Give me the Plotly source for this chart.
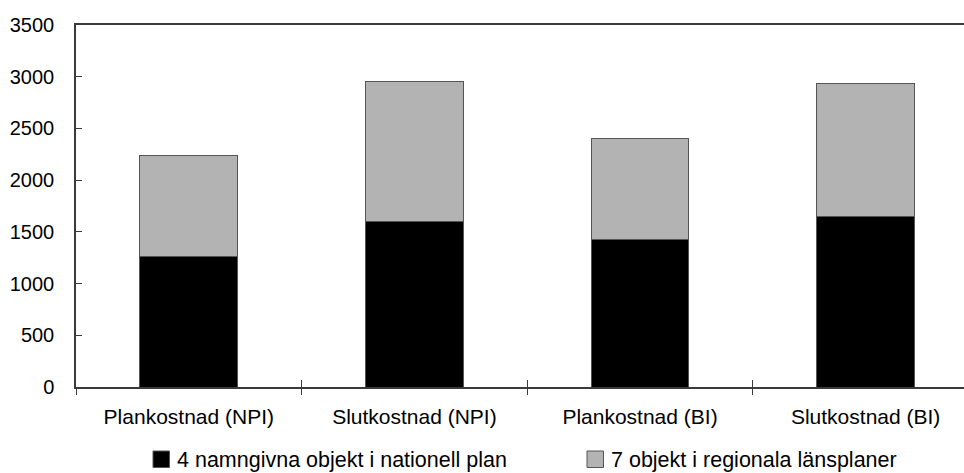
import plotly.graph_objects as go

# Costs per estimate type (MSEK)
categories = ["Plankostnad (NPI)", "Slutkostnad (NPI)", "Plankostnad (BI)", "Slutkostnad (BI)"]
nationell = [1257, 1605, 1428, 1644]
regional = [986, 1351, 970, 1286]
series_names = ["4 namngivna objekt i nationell plan", "7 objekt i regionala länsplaner"]
series_colors = ["#000000", "#b3b3b3"]
y_ticks = [0, 500, 1000, 1500, 2000, 2500, 3000, 3500]

FONT = "Liberation Sans, Arial, sans-serif"
AXIS_COLOR = "#3a3a3a"
OUTLINE = "#555555"
CLEAR = "rgba(0,0,0,0)"

W, H = 964, 473
ML, MR, MT, MB = 76, 0, 25, 86
PW, PH = W - ML - MR, H - MT - MB
X_RANGE = [-0.5, 3.436]


def px_x(X):
    return (X - ML) / PW


def px_y(Y):
    return (H - MB - Y) / PH


fig = go.Figure()
for name, vals, col in zip(series_names, [nationell, regional], series_colors):
    fig.add_trace(go.Bar(
        x=categories, y=vals, name=name, showlegend=False,
        marker=dict(color=col, line=dict(color=OUTLINE, width=1)),
    ))

# helper axes that only carry tick marks
for xa, ya in [("x2", "y2"), ("x3", "y2")]:
    fig.add_trace(go.Scatter(x=[0.5], y=[0], xaxis=xa, yaxis=ya,
                             mode="markers", marker=dict(opacity=0),
                             showlegend=False, hoverinfo="skip"))

# legend drawn below the axis: key square + label
legend_items = [(153, series_names[0], series_colors[0]),
                (587, series_names[1], series_colors[1])]
shapes, annotations = [], []
for x0, name, col in legend_items:
    shapes.append(dict(
        type="rect", xref="paper", yref="paper",
        x0=px_x(x0), x1=px_x(x0 + 16.5), y0=px_y(451), y1=px_y(467.5),
        fillcolor=col, line=dict(color=OUTLINE, width=1),
    ))
    annotations.append(dict(
        xref="paper", yref="paper", x=px_x(x0 + 22), y=px_y(460),
        xanchor="left", yanchor="middle", showarrow=False,
        text=name, font=dict(family=FONT, size=21.5, color="#000000"),
    ))

boundaries = [-0.5, 0.5, 1.5, 2.5]

fig.update_layout(
    width=W, height=H,
    margin=dict(l=ML, r=MR, t=MT, b=MB, autoexpand=False),
    paper_bgcolor="white", plot_bgcolor="white",
    barmode="stack", bargap=0.566,
    font=dict(family=FONT, size=20, color="#000000"),
    showlegend=False,
    shapes=shapes, annotations=annotations,
    xaxis=dict(
        type="category", range=X_RANGE,
        showline=True, linecolor=AXIS_COLOR, linewidth=1.5, mirror=True,
        ticks="outside", ticklen=10, tickcolor=CLEAR,
        showgrid=False, zeroline=False,
        tickfont=dict(family=FONT, size=21),
    ),
    # divider ticks above the baseline
    xaxis2=dict(
        overlaying="x", anchor="y2", range=X_RANGE,
        tickvals=boundaries[1:], ticks="inside", ticklen=7, tickcolor=AXIS_COLOR,
        showticklabels=False, showgrid=False, zeroline=False, showline=False,
    ),
    # divider ticks below the baseline
    xaxis3=dict(
        overlaying="x", anchor="y2", range=X_RANGE,
        tickvals=boundaries, ticks="outside", ticklen=7, tickcolor=AXIS_COLOR,
        tickwidth=1.2,
        showticklabels=False, showgrid=False, zeroline=False, showline=False,
    ),
    yaxis=dict(
        range=[0, 3500], tickvals=y_ticks,
        showline=True, linecolor=AXIS_COLOR, linewidth=1.5,
        ticks="outside", ticklen=16, tickcolor=CLEAR,
        showgrid=False, zeroline=False,
        tickfont=dict(family=FONT, size=20),
    ),
    yaxis2=dict(
        overlaying="y", anchor="x", side="left", range=[0, 3500],
        tickvals=y_ticks, ticks="inside", ticklen=6, tickcolor=AXIS_COLOR,
        showticklabels=False, showgrid=False, zeroline=False, showline=False,
    ),
)

fig.write_html("out.html")
